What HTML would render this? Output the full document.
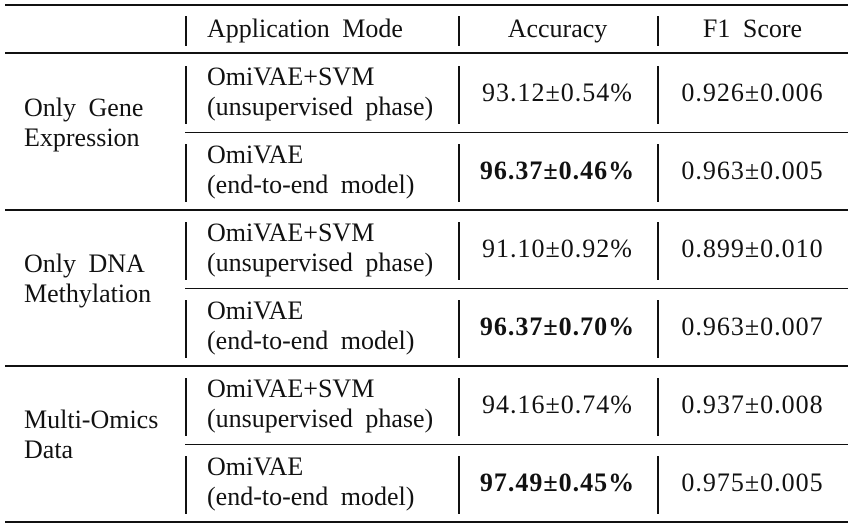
<!DOCTYPE html>
<html><head><meta charset="utf-8"><style>
body{margin:0;width:848px;height:528px;background:#fff;overflow:hidden;font-family:"Liberation Serif",serif;color:#111;}
.a{position:absolute;white-space:nowrap;font-size:26px;line-height:30px;word-spacing:6px;}
.r{position:absolute;left:5px;width:843px;background:#111;}
.v{position:absolute;width:1.5px;background:#111;}
.c{text-align:center;}
.n{letter-spacing:1px;}
</style></head><body>
<div class="r" style="top:4px;height:2px"></div>
<div class="r" style="top:52px;height:2px"></div>
<div class="r" style="top:209px;height:2px"></div>
<div class="r" style="top:365px;height:2px"></div>
<div class="r" style="top:521px;height:2px"></div>
<div class="r" style="top:132px;height:1px;left:185px;width:663px"></div>
<div class="r" style="top:288px;height:1px;left:185px;width:663px"></div>
<div class="r" style="top:444px;height:1px;left:185px;width:663px"></div>
<div id="vl"></div>
<div class="a" style="left:207px;top:14px">Application Mode</div>
<div class="a c" style="left:458px;width:199px;top:14px">Accuracy</div>
<div class="a c" style="left:657px;width:191px;top:14px">F1 Score</div>
<div id="body"></div>
<script>
const groups=[["Only Gene","Expression"],["Only DNA","Methylation"],["Multi-Omics","Data"]];
const acc=[["93.12±0.54%","96.37±0.46%"],["91.10±0.92%","96.37±0.70%"],["94.16±0.74%","97.49±0.45%"]];
const f1=[["0.926±0.006","0.963±0.005"],["0.899±0.010","0.963±0.007"],["0.937±0.008","0.975±0.005"]];
const modes=[["OmiVAE+SVM","(unsupervised phase)"],["OmiVAE","(end-to-end model)"]];
const b=document.getElementById('body'),vl=document.getElementById('vl');
function v(x,t,h){const d=document.createElement('div');d.className='v';d.style.left=x+'px';d.style.top=t+'px';d.style.height=h+'px';

vl.appendChild(d);}
[185,458,657].forEach(x=>v(x,16,30));
groups.forEach((g,i)=>{
 const top=54+i*156;
 const d=document.createElement('div');d.className='a';d.style.left='24px';d.style.top=(top+39)+'px';d.innerHTML=g[0]+'<br>'+g[1];
 
 b.appendChild(d);
 for(let j=0;j<2;j++){
  const rt=top+j*78;
  [185,458,657].forEach(x=>v(x,rt+12,58));
  const m=document.createElement('div');m.className='a';m.style.left='207px';m.style.top=(rt+8)+'px';m.innerHTML=modes[j][0]+'<br>'+modes[j][1];
  
  b.appendChild(m);
  const a=document.createElement('div');a.className='a c n';a.style.left='458px';a.style.width='199px';a.style.top=(rt+24)+'px';a.textContent=acc[i][j];if(j==1)a.style.fontWeight='bold';
  
  b.appendChild(a);
  const f=document.createElement('div');f.className='a c n';f.style.left='657px';f.style.width='191px';f.style.top=(rt+24)+'px';f.textContent=f1[i][j];
  
  b.appendChild(f);
 }
});
</script>
</body></html>
